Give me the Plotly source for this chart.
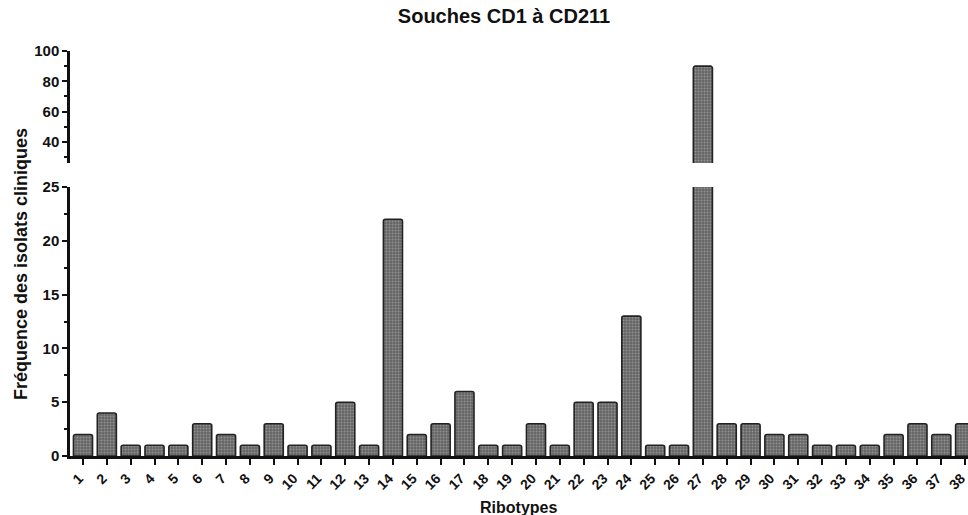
import plotly.graph_objects as go

# Ribotype categories and number of clinical isolates per ribotype
ribotypes = [str(i) for i in range(1, 39)]
frequences = [2, 4, 1, 1, 1, 3, 2, 1, 3, 1,
              1, 5, 1, 22, 2, 3, 6, 1, 1, 3,
              1, 5, 5, 13, 1, 1, 90, 3, 3, 2,
              2, 1, 1, 1, 2, 3, 2, 3]
x_pos = list(range(1, 39))

lower_ticks = [0, 5, 10, 15, 20, 25]
upper_ticks = [40, 60, 80, 100]

FONT = "Liberation Sans"
INK = "#111111"
bar_style = dict(
    color="#767676",
    line=dict(color="#222222", width=1.6),
    pattern=dict(shape=".", fgcolor="#bdbdbd", bgcolor="#646464",
                 size=3, solidity=0.35),
    cornerradius=2,
)

fig = go.Figure()
# lower segment of the broken axis (0-25)
fig.add_trace(go.Bar(x=x_pos, y=frequences, width=0.8, marker=bar_style,
                     xaxis="x", yaxis="y", showlegend=False))
# upper segment of the broken axis (26-100)
fig.add_trace(go.Bar(x=x_pos, y=frequences, width=0.8, marker=bar_style,
                     xaxis="x2", yaxis="y2", showlegend=False))

tickfont = dict(family=FONT, size=15, color=INK)
xtickfont = dict(family=FONT, size=14, color=INK)

fig.update_layout(
    width=968, height=515,
    margin=dict(l=70, r=0, t=0, b=0),
    plot_bgcolor="white", paper_bgcolor="white",
    bargap=0.2,
    title=dict(text="<b>Souches CD1 à CD211</b>", x=504 / 968, xref="container",
               xanchor="center", y=1 - 16 / 515, yref="container",
               yanchor="middle", automargin=False,
               font=dict(family=FONT, size=20, color=INK)),
    xaxis=dict(
        anchor="y", range=[0.455, 38.12], tickmode="array",
        tickvals=x_pos, ticktext=[f"<b>{t}</b>" for t in ribotypes],
        tickangle=-45, tickfont=xtickfont, ticklabeloverflow="allow",
        ticklabelshift=-4,
        ticks="outside", ticklen=6, tickwidth=2, tickcolor=INK,
        showline=True, linecolor=INK, linewidth=2.5,
        showgrid=False, zeroline=False, automargin=False,
    ),
    xaxis2=dict(anchor="y2", matches="x", visible=False, automargin=False),
    yaxis=dict(
        domain=[1 - 456 / 515, 1 - 187 / 515], range=[0, 25],
        tickmode="array", tickvals=lower_ticks,
        ticktext=[f"<b>{t}</b>" for t in lower_ticks], tickfont=tickfont,
        ticks="outside", ticklen=5, tickwidth=2, tickcolor=INK,
        minor=dict(dtick=2.5, ticks="outside", ticklen=3, tickwidth=1.5,
                   tickcolor=INK),
        showline=True, linecolor=INK, linewidth=2.5,
        showgrid=False, zeroline=False, automargin=False,
    ),
    yaxis2=dict(
        domain=[1 - 163 / 515, 1 - 51 / 515], range=[26, 100],
        tickmode="array", tickvals=upper_ticks,
        ticktext=[f"<b>{t}</b>" for t in upper_ticks], tickfont=tickfont,
        ticks="outside", ticklen=5, tickwidth=2, tickcolor=INK,
        minor=dict(dtick=10, ticks="outside", ticklen=3, tickwidth=1.5,
                   tickcolor=INK),
        showline=True, linecolor=INK, linewidth=2.5,
        showgrid=False, zeroline=False, automargin=False,
    ),
    annotations=[
        dict(text="<b>Fréquence des isolats cliniques</b>", textangle=-90,
             xref="paper", yref="paper", x=(21 - 70) / 898, y=1 - 264 / 515,
             xanchor="center", yanchor="middle", showarrow=False,
             font=dict(family=FONT, size=18, color=INK)),
        dict(text="<b>Ribotypes</b>", xref="paper", yref="paper",
             x=(518 - 70) / 898, y=1 - 507 / 515,
             xanchor="center", yanchor="middle", showarrow=False,
             font=dict(family=FONT, size=16, color=INK)),
    ],
)

fig.write_html("out.html")
